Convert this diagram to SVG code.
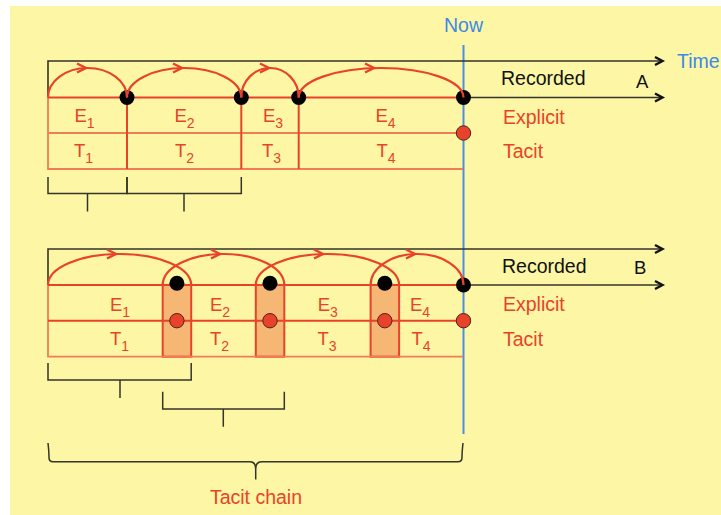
<svg xmlns="http://www.w3.org/2000/svg" width="721" height="515" viewBox="0 0 721 515">
<defs>
<style>
.bg{fill:#fcf6a5}
.ax{stroke:#34342a;stroke-width:1.6;fill:none}
.chev{stroke:#111;stroke-width:2.4;fill:none;stroke-linejoin:miter}
.rl{stroke:#e8432a;stroke-width:2;fill:none}
.ol{stroke:#f17c58;stroke-width:1.8;fill:none}
.arc{stroke:#e8432a;stroke-width:2.2;fill:none}
.ahd{stroke:#e8432a;stroke-width:2.4;fill:none}
.now{stroke:#4a8ee6;stroke-width:2;fill:none}
.bd{fill:#000}
.rd{fill:#e8432a;stroke:#4a2418;stroke-width:1}
.cell{fill:#f6b774;stroke:#e8432a;stroke-width:2}
.br{stroke:#34342a;stroke-width:1.5;fill:none}
text{font-family:"Liberation Sans",Arial,sans-serif}
.t{font-size:19.5px;fill:#e8432a}
.k{font-size:19.5px;fill:#111}
.ab{font-size:18.5px;fill:#111}
.b{font-size:19.5px;fill:#3b8ae6}
.lab{font-size:18.5px;fill:#e8432a}
.sub{font-size:14px}
</style>
</defs>
<rect class="bg" x="10" y="6" width="711" height="509"/>

<g id="now">
<line class="now" x1="463.5" y1="45" x2="463.5" y2="434"/>
<text class="b" x="463.5" y="31.5" text-anchor="middle">Now</text>
</g>

<g id="timeline-A">
<path class="ax" d="M48 97.5 V61 H661"/>
<path class="chev" d="M655 57 L662.5 61 L655 65"/>
<path class="ax" d="M463 97.5 H661"/>
<path class="chev" d="M655 93.5 L662.5 97.5 L655 101.5"/>
<path class="ol" d="M48 97.5 V169 H463 M48 133 H463"/>
<path class="rl" d="M48 97.5 H463 M127 97.5 V169 M241.3 97.5 V169 M298.7 97.5 V169"/>
<text class="b" x="677" y="68">Time</text>
<text class="k" x="501" y="85">Recorded</text>
<text class="ab" x="636" y="87.5">A</text>
<text class="t" x="503" y="124.3">Explicit</text>
<text class="t" x="503" y="157.7">Tacit</text>
<text class="lab" x="74.5" y="122.3">E<tspan class="sub" dy="6">1</tspan></text>
<text class="lab" x="174.5" y="122.3">E<tspan class="sub" dy="6">2</tspan></text>
<text class="lab" x="263" y="122.3">E<tspan class="sub" dy="6">3</tspan></text>
<text class="lab" x="375.5" y="122.3">E<tspan class="sub" dy="6">4</tspan></text>
<text class="lab" x="74" y="157.3">T<tspan class="sub" dy="6">1</tspan></text>
<text class="lab" x="175" y="157.3">T<tspan class="sub" dy="6">2</tspan></text>
<text class="lab" x="262" y="157.3">T<tspan class="sub" dy="6">3</tspan></text>
<text class="lab" x="376.5" y="157.3">T<tspan class="sub" dy="6">4</tspan></text>
<circle class="bd" cx="127" cy="97.5" r="7.5"/>
<circle class="bd" cx="241.3" cy="97.5" r="7.5"/>
<circle class="bd" cx="298.7" cy="97.5" r="7.5"/>
<circle class="bd" cx="463.5" cy="97.5" r="7.5"/>
<circle class="rd" cx="463.5" cy="133" r="7.2"/>
</g>

<g id="brackets-A">
<path class="br" d="M48 177 V193.5 H127 V177 M87.5 193.5 V211.5"/>
<path class="br" d="M127 177 V193.5 H241.3 V177 M184 193.5 V211.5"/>
</g>

<g id="timeline-B">
<rect class="cell" x="162.7" y="285" width="28.5" height="71.7"/>
<rect class="cell" x="255.8" y="285" width="28.5" height="71.7"/>
<rect class="cell" x="370.6" y="285" width="28.5" height="71.7"/>
<path class="ax" d="M48 285 V249 H661"/>
<path class="chev" d="M655 245 L662.5 249 L655 253"/>
<path class="ax" d="M463 285 H661"/>
<path class="chev" d="M655 281 L662.5 285 L655 289"/>
<path class="ol" d="M48 285 V356.7 H463"/>
<path class="rl" d="M48 285 H463 M48 320.7 H463"/>
<text class="k" x="502" y="272.5">Recorded</text>
<text class="ab" x="634" y="274">B</text>
<text class="t" x="503" y="310.7">Explicit</text>
<text class="t" x="503" y="346">Tacit</text>
<text class="lab" x="110" y="310.7">E<tspan class="sub" dy="6">1</tspan></text>
<text class="lab" x="210" y="310.7">E<tspan class="sub" dy="6">2</tspan></text>
<text class="lab" x="317.7" y="310.7">E<tspan class="sub" dy="6">3</tspan></text>
<text class="lab" x="410" y="310.7">E<tspan class="sub" dy="6">4</tspan></text>
<text class="lab" x="110" y="344.5">T<tspan class="sub" dy="6">1</tspan></text>
<text class="lab" x="210" y="344.5">T<tspan class="sub" dy="6">2</tspan></text>
<text class="lab" x="317.5" y="344.5">T<tspan class="sub" dy="6">3</tspan></text>
<text class="lab" x="411.5" y="344.5">T<tspan class="sub" dy="6">4</tspan></text>
<circle class="bd" cx="176.9" cy="283.3" r="7.5"/>
<circle class="bd" cx="270" cy="283.3" r="7.5"/>
<circle class="bd" cx="384.8" cy="283.3" r="7.5"/>
<circle class="bd" cx="463.5" cy="285" r="7.5"/>
<circle class="rd" cx="176.9" cy="320.7" r="7.2"/>
<circle class="rd" cx="270" cy="320.7" r="7.2"/>
<circle class="rd" cx="384.8" cy="320.7" r="7.2"/>
<circle class="rd" cx="463.5" cy="320.7" r="7.2"/>
</g>

<g id="brackets-B">
<path class="br" d="M48 363 V380 H191.2 V363 M120 380 V398"/>
<path class="br" d="M162.7 391.7 V409 H284.3 V391.7 M223.3 409 V426.7"/>
</g>

<g id="tacit-chain">
<path class="br" d="M48 443 Q49 452 49 457.5 Q49 461.7 53 461.7 H250 Q255.7 461.7 255.7 469 V479.5 M255.7 469 Q255.7 461.7 261.4 461.7 H458 Q462 461.7 462 457.5 Q462 452 463 443"/>
<text class="t" x="256" y="504" text-anchor="middle">Tacit chain</text>
</g>

<g id="connectors">
<path class="arc" d="M48 97.5 A39.5 29.5 0 0 1 127 97.5"/>
<path class="arc" d="M127 97.5 A57.15 29.5 0 0 1 241.3 97.5"/>
<path class="arc" d="M241.3 97.5 A28.7 29.5 0 0 1 298.7 97.5"/>
<path class="arc" d="M298.7 97.5 A82.4 29.5 0 0 1 463.5 97.5"/>
<path class="ahd" d="M77 63.5 L86 68 L77 72.5"/>
<path class="ahd" d="M173 63.5 L182 68 L173 72.5"/>
<path class="ahd" d="M260 63.5 L269 68 L260 72.5"/>
<path class="ahd" d="M365 63.5 L374 68 L365 72.5"/>
<path class="arc" d="M48 285 A71.6 31 0 0 1 191.2 285"/>
<path class="arc" d="M162.7 285 A60.8 31 0 0 1 284.3 285"/>
<path class="arc" d="M255.8 285 A71.65 31 0 0 1 399.1 285"/>
<path class="arc" d="M370.6 285 A46.45 31 0 0 1 463.5 285"/>
<path class="ahd" d="M107 249.5 L116 254 L107 258.5"/>
<path class="ahd" d="M211 249.5 L220 254 L211 258.5"/>
<path class="ahd" d="M314 249.5 L323 254 L314 258.5"/>
<path class="ahd" d="M406 249.5 L415 254 L406 258.5"/>
</g>
</svg>
